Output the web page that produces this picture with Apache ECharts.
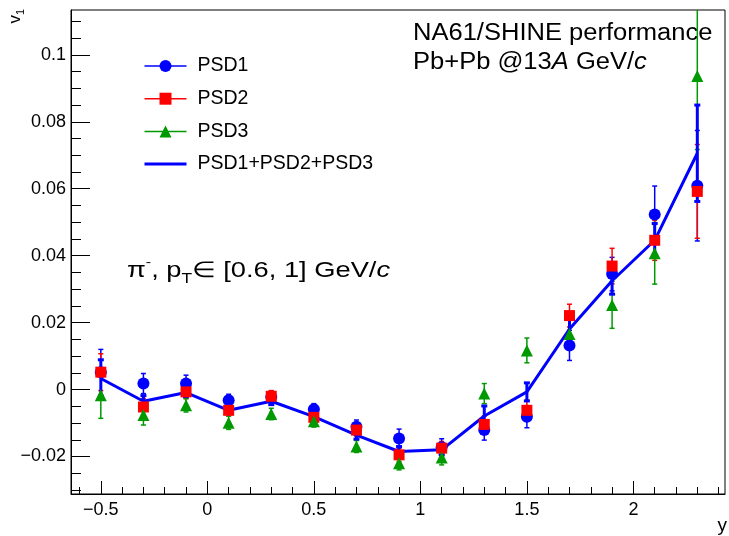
<!DOCTYPE html>
<html><head><meta charset="utf-8">
<script src="https://cdn.jsdelivr.net/npm/echarts@6/dist/echarts.min.js"></script>
<style>html,body{margin:0;padding:0;background:#fff}#c{width:729px;height:536px}</style>
</head><body><div id="c"></div>
<script>
// ---- data ----
const rapidity = [-0.5, -0.3, -0.1, 0.1, 0.3, 0.5, 0.7, 0.9, 1.1, 1.3, 1.5, 1.7, 1.9, 2.1, 2.3];
const psd1    = [0.0052, 0.0018, 0.0018, -0.0032, -0.0022, -0.0059, -0.0111, -0.0146, -0.0172, -0.0121, -0.0081, 0.0132, 0.0345, 0.0523, 0.0609];
const psd1Err = [0.0068, 0.0030, 0.0025, 0.0018, 0.0018, 0.0017, 0.0020, 0.0028, 0.0025, 0.0030, 0.0033, 0.0045, 0.0050, 0.0085, 0.0165];
const psd2    = [0.0052, -0.0052, -0.0007, -0.0062, -0.0020, -0.0083, -0.0121, -0.0195, -0.0175, -0.0104, -0.0062, 0.0221, 0.0369, 0.0446, 0.0592];
const psd2Err = [0.0055, 0.0025, 0.0020, 0.0017, 0.0017, 0.0016, 0.0018, 0.0020, 0.0020, 0.0025, 0.0030, 0.0034, 0.0053, 0.0060, 0.0140];
const psd3    = [-0.0017, -0.0076, -0.0047, -0.0099, -0.0073, -0.0095, -0.0170, -0.0220, -0.0203, -0.0012, 0.0117, 0.0166, 0.0253, 0.0407, 0.0937];
const psd3Err = [0.0069, 0.0030, 0.0020, 0.0020, 0.0017, 0.0017, 0.0018, 0.0020, 0.0022, 0.0030, 0.0037, 0.0045, 0.0070, 0.0092, 0.0220];
const psdAll    = [0.0033, -0.0035, -0.0009, -0.0062, -0.0035, -0.0081, -0.0136, -0.0185, -0.0180, -0.0079, -0.0007, 0.0181, 0.0325, 0.0446, 0.0706];
const psdAllErr = [0.0056, 0.0017, 0.0012, 0.0010, 0.0010, 0.0010, 0.0012, 0.0015, 0.0015, 0.0030, 0.0027, 0.0030, 0.0040, 0.0050, 0.0144];

const seriesNames = ['PSD1', 'PSD2', 'PSD3', 'PSD1+PSD2+PSD3'];
const xMajorTicks = [-0.5, 0, 0.5, 1, 1.5, 2];
const xMinorTicks = [-0.6, -0.4, -0.3, -0.2, -0.1, 0.1, 0.2, 0.3, 0.4, 0.6, 0.7, 0.8, 0.9, 1.1, 1.2, 1.3, 1.4, 1.6, 1.7, 1.8, 1.9, 2.1, 2.2, 2.3, 2.4];
const yMajorTicks = [-0.02, 0, 0.02, 0.04, 0.06, 0.08, 0.1];
const yMinorTicks = [-0.03, -0.025, -0.015, -0.01, -0.005, 0.005, 0.01, 0.015, 0.025, 0.03, 0.035, 0.045, 0.05, 0.055, 0.065, 0.07, 0.075, 0.085, 0.09, 0.095, 0.105, 0.11];

// ---- chart ----
const FONT = 'Liberation Sans, Arial, Helvetica, sans-serif';
const BLUE = '#0000ff', RED = '#ff0000', GREEN = '#009900';
const X_MIN = -0.64, X_MAX = 2.43, Y_MIN = -0.0312, Y_MAX = 0.1134;

const fmt = v => v === 0 ? '0' : (v < 0 ? '\u2212' : '') + Math.abs(v);

function pts(vals, errs) { return rapidity.map((x, i) => [x, vals[i], errs[i]]); }

function errSeries(vals, errs, color, lw, cap) {
  return {
    type: 'custom', silent: true, clip: true,
    data: pts(vals, errs), encode: { x: 0, y: 1 },
    renderItem: function (params, api) {
      const x = api.value(0), y = api.value(1), e = api.value(2);
      const t = api.coord([x, y + e]), b = api.coord([x, y - e]);
      const st = { stroke: color, lineWidth: lw };
      return { type: 'group', children: [
        { type: 'line', shape: { x1: t[0], y1: t[1], x2: b[0], y2: b[1] }, style: st },
        { type: 'line', shape: { x1: t[0] - cap, y1: t[1], x2: t[0] + cap, y2: t[1] }, style: st },
        { type: 'line', shape: { x1: b[0] - cap, y1: b[1], x2: b[0] + cap, y2: b[1] }, style: st }
      ]};
    }
  };
}

function markSeries(name, vals, errs, color, symbol, size) {
  return {
    name: name, type: 'line', silent: true,
    data: pts(vals, errs),
    symbol: symbol, symbolSize: size, showSymbol: true,
    itemStyle: { color: color },
    lineStyle: { opacity: 0, width: 0 },
    emphasis: { disabled: true }
  };
}

const chart = echarts.init(document.getElementById('c'), null, { renderer: 'canvas' });
const axisLineStyle = { color: '#000', width: 1 };

chart.setOption({
  animation: false,
  backgroundColor: '#fff',
  textStyle: { fontFamily: FONT },
  grid: { left: 71, right: 4, top: 10, bottom: 42, show: true, borderColor: '#000', borderWidth: 1, containLabel: false },
  xAxis: [
    { type: 'value', min: X_MIN, max: X_MAX, position: 'bottom',
      axisLine: { show: true, onZero: false, lineStyle: axisLineStyle },
      axisTick: { show: true, inside: true, length: 13, customValues: xMajorTicks, lineStyle: axisLineStyle },
      axisLabel: { show: true, customValues: xMajorTicks, formatter: fmt, color: '#000', fontSize: 18, fontFamily: FONT, margin: 7 },
      splitLine: { show: false } },
    { type: 'value', min: X_MIN, max: X_MAX, position: 'bottom', offset: 0,
      axisLine: { show: false, onZero: false },
      axisTick: { show: true, inside: true, length: 7, customValues: xMinorTicks, lineStyle: axisLineStyle },
      axisLabel: { show: false }, splitLine: { show: false } }
  ],
  yAxis: [
    { type: 'value', min: Y_MIN, max: Y_MAX, position: 'left',
      axisLine: { show: true, onZero: false, lineStyle: axisLineStyle },
      axisTick: { show: true, inside: true, length: 19, customValues: yMajorTicks, lineStyle: axisLineStyle },
      axisLabel: { show: true, customValues: yMajorTicks, formatter: fmt, color: '#000', fontSize: 18, fontFamily: FONT, margin: 5 },
      splitLine: { show: false } },
    { type: 'value', min: Y_MIN, max: Y_MAX, position: 'left', offset: 0,
      axisLine: { show: false, onZero: false },
      axisTick: { show: true, inside: true, length: 10, customValues: yMinorTicks, lineStyle: axisLineStyle },
      axisLabel: { show: false }, splitLine: { show: false } }
  ],
  legend: {
    orient: 'vertical', left: 143, top: 56, padding: 0,
    itemWidth: 42, itemHeight: 15, itemGap: 12.7,
    selectedMode: false,
    textStyle: { fontSize: 19.5, color: '#000', fontFamily: FONT, padding: [0, 0, 0, 6] },
    data: [
      { name: seriesNames[0], lineStyle: { color: BLUE, width: 1.5, opacity: 1 } },
      { name: seriesNames[1], lineStyle: { color: RED, width: 1.5, opacity: 1 } },
      { name: seriesNames[2], lineStyle: { color: GREEN, width: 1.5, opacity: 1 } },
      { name: seriesNames[3], lineStyle: { color: BLUE, width: 3, opacity: 1 }, itemStyle: { opacity: 0 } }
    ]
  },
  series: [
    errSeries(psd1, psd1Err, BLUE, 1.5, 2.5),
    markSeries(seriesNames[0], psd1, psd1Err, BLUE, 'circle', 12),
    errSeries(psd2, psd2Err, RED, 1.5, 2.5),
    markSeries(seriesNames[1], psd2, psd2Err, RED, 'rect', 11),
    errSeries(psd3, psd3Err, GREEN, 1.5, 2.5),
    markSeries(seriesNames[2], psd3, psd3Err, GREEN, 'triangle', 12),
    errSeries(psdAll, psdAllErr, BLUE, 3, 3),
    { name: seriesNames[3], type: 'line', silent: true, data: pts(psdAll, psdAllErr),
      symbol: 'none', showSymbol: false,
      lineStyle: { color: BLUE, width: 3 }, itemStyle: { color: BLUE },
      emphasis: { disabled: true } }
  ],
  graphic: [
    { type: 'text', x: 413, y: 34, scaleX: 1.11, silent: true,
      style: { text: 'NA61/SHINE performance', fontSize: 23, fontFamily: FONT, fill: '#000', align: 'left', verticalAlign: 'middle' } },
    { type: 'text', x: 413, y: 63, scaleX: 1.11, silent: true,
      style: { text: 'Pb+Pb @13{it|A} GeV/{it|c}', fontSize: 23, fontFamily: FONT, fill: '#000', align: 'left', verticalAlign: 'middle',
        rich: { it: { fontSize: 23, fontFamily: FONT, fontStyle: 'italic', fill: '#000' } } } },
    { type: 'text', x: 127, y: 271, scaleX: 1.24, silent: true,
      style: { text: '{n|\u03c0}{sup|-}{n|, p}{sub|T}{n|\u2208 [0.6, 1] GeV/}{it|c}', fontFamily: FONT, fill: '#000', align: 'left', verticalAlign: 'middle',
        rich: {
          n: { fontSize: 22, fontFamily: FONT, fill: '#000', lineHeight: 30, verticalAlign: 'middle' },
          it: { fontSize: 22, fontFamily: FONT, fill: '#000', fontStyle: 'italic', lineHeight: 30, verticalAlign: 'middle' },
          sup: { fontSize: 13, fontFamily: FONT, fill: '#000', lineHeight: 30, verticalAlign: 'top' },
          sub: { fontSize: 14, fontFamily: FONT, fill: '#000', lineHeight: 30, verticalAlign: 'bottom' }
        } } },
    { type: 'text', x: 15, y: 9, rotation: Math.PI / 2, silent: true,
      style: { text: '{v|v}{s|1}', fontFamily: FONT, fill: '#000', align: 'right', verticalAlign: 'middle',
        rich: {
          v: { fontSize: 17, fontFamily: FONT, fill: '#000', lineHeight: 22, verticalAlign: 'middle' },
          s: { fontSize: 11, fontFamily: FONT, fill: '#000', lineHeight: 22, verticalAlign: 'bottom' }
        } } },
    { type: 'text', x: 727, y: 526, silent: true,
      style: { text: 'y', fontSize: 19, fontFamily: FONT, fill: '#000', align: 'right', verticalAlign: 'middle' } }
  ]
});
</script>
</body></html>
